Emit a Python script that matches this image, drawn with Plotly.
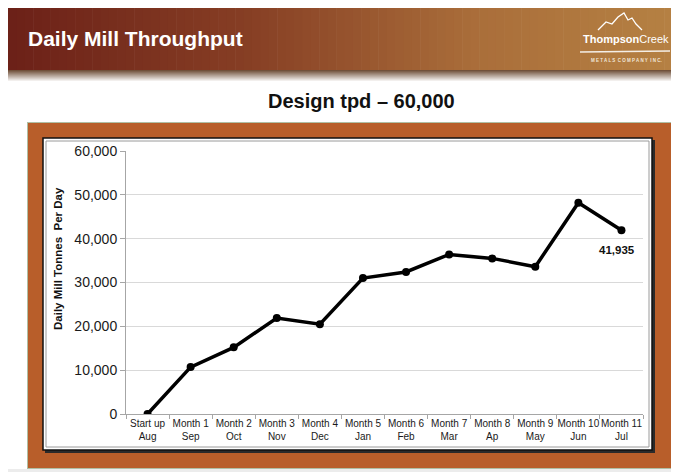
import plotly.graph_objects as go

# ---- data ----
months = ["Start up", "Month 1", "Month 2", "Month 3", "Month 4", "Month 5",
          "Month 6", "Month 7", "Month 8", "Month 9", "Month 10", "Month 11"]
cal = ["Aug", "Sep", "Oct", "Nov", "Dec", "Jan", "Feb", "Mar", "Ap", "May", "Jun", "Jul"]
tpd = [0, 10700, 15200, 21900, 20500, 31000, 32400, 36400, 35500, 33600, 48200, 41935]
y_ticks = [0, 10000, 20000, 30000, 40000, 50000, 60000]
categories = [f"{m}<br>{c}" for m, c in zip(months, cal)]

# page pixel frame (the html body adds an 8px offset)
OFF = 8
PAGE_W, PAGE_H = 679, 472
FIG_W, FIG_H = PAGE_W - OFF, PAGE_H - OFF
L, R, T, B = 126, 643, 151, 414
PW, PH = R - L, B - T


def px(x):
    return (x - L) / PW


def py(y):
    return (B - y) / PH


def lerp(c1, c2, t):
    return "rgb(%d,%d,%d)" % tuple(round(a + (b - a) * t) for a, b in zip(c1, c2))


shapes = []


def rect(x0, y0, x1, y1, fill, line=None, lw=0, layer="below"):
    shapes.append(dict(type="rect", xref="paper", yref="paper",
                       x0=px(x0), x1=px(x1), y0=py(y1), y1=py(y0),
                       fillcolor=fill, layer=layer,
                       line=dict(color=line or fill, width=lw)))


# page background
rect(0, 0, PAGE_W + 2, PAGE_H + 2, "#ECECEC")
rect(8, 7, PAGE_W + 2, 469, "#FFFFFF")

# banner gradient
stops = [(0.0, (108, 33, 24)), (0.35, (134, 62, 36)), (0.7, (170, 110, 58)), (1.0, (181, 129, 67))]
n = 80
x_start, x_end = 8, PAGE_W + 2
for i in range(n):
    t = i / (n - 1)
    for j in range(len(stops) - 1):
        if stops[j][0] <= t <= stops[j + 1][0]:
            tt = (t - stops[j][0]) / (stops[j + 1][0] - stops[j][0])
            col = lerp(stops[j][1], stops[j + 1][1], tt)
            break
    xa = x_start + (x_end - x_start) * i / n
    xb = x_start + (x_end - x_start) * (i + 1) / n + 0.6
    rect(xa, 7, xb, 70, col)
# banner lower shadow
for i in range(12):
    t = i / 11
    rect(8, 70 + i, PAGE_W + 2, 71 + i, lerp((112, 80, 58), (255, 255, 255), t))

# orange frame
rect(27, 122, 673, 469, "#B0BFA4")
rect(28, 123, 672, 468, "#B85E2A")
# inner box shadow + box
rect(45, 140, 655, 453, "#2A2A2A")
rect(43, 138, 652, 450, "#FFFFFF", line="#111111", lw=1.5)
rect(46, 141, 649, 447, "rgba(0,0,0,0)", line="#9A9A9A", lw=1)

# logo mountains
mx = [598, 606, 612, 618, 624, 628, 632, 636, 642]
my = [30, 22, 24, 17, 13, 20, 18, 24, 30]
path = "M " + " L ".join(f"{px(a)},{py(b)}" for a, b in zip(mx, my))
shapes.append(dict(type="path", xref="paper", yref="paper", path=path,
                   line=dict(color="#FFFFFF", width=1.3), layer="below"))
shapes.append(dict(type="line", xref="paper", yref="paper",
                   x0=px(580), x1=px(670), y0=py(52), y1=py(51),
                   line=dict(color="#F4EEE6", width=1.3), layer="below"))

annotations = [
    dict(text="<b>Daily Mill Throughput</b>", x=px(26), y=py(38), xref="paper", yref="paper",
         xanchor="left", yanchor="middle", showarrow=False,
         font=dict(family="Arial, Liberation Sans", size=21, color="#FFFFFF")),
    dict(text="<b>Thompson</b>Creek", x=px(626), y=py(39), xref="paper", yref="paper",
         xanchor="center", yanchor="middle", showarrow=False,
         font=dict(family="Arial, Liberation Sans", size=11, color="#FFFFFF")),
    dict(text="<b>M E T A L S  C O M P A N Y  I N C.</b>", x=px(626), y=py(61),
         xref="paper", yref="paper",
         xanchor="center", yanchor="middle", showarrow=False,
         font=dict(family="Arial, Liberation Sans", size=4.5, color="#F1E6D8")),
    dict(text="<b>Design tpd – 60,000</b>", x=px(361), y=py(101), xref="paper", yref="paper",
         xanchor="center", yanchor="middle", showarrow=False,
         font=dict(family="Arial, Liberation Sans", size=20, color="#111111")),
    dict(text="<b>Daily Mill Tonnes  Per Day</b>", x=px(58), y=py(259), xref="paper", yref="paper",
         xanchor="center", yanchor="middle", showarrow=False, textangle=-90,
         font=dict(family="Arial, Liberation Sans", size=11.5, color="#111111")),
    dict(text="<b>41,935</b>", x=categories[-1], y=tpd[-1], xref="x", yref="y",
         xanchor="center", yanchor="top", yshift=-12, xshift=-4, showarrow=False,
         font=dict(family="Arial, Liberation Sans", size=11.5, color="#111111")),
]

fig = go.Figure()
fig.add_trace(go.Scatter(
    x=categories, y=tpd, mode="lines+markers",
    line=dict(color="#000000", width=3.5),
    marker=dict(color="#000000", size=8),
    hoverinfo="x+y", showlegend=False,
))

fig.update_layout(
    width=FIG_W, height=FIG_H, autosize=False,
    margin=dict(l=L - OFF, r=PAGE_W - R, t=T - OFF, b=PAGE_H - B, pad=0),
    paper_bgcolor="#FFFFFF", plot_bgcolor="rgba(0,0,0,0)",
    shapes=shapes, annotations=annotations,
    font=dict(family="Arial, Liberation Sans", color="#222222"),
    xaxis=dict(type="category", range=[-0.5, 11.5], showgrid=False, zeroline=False,
               showline=True, linecolor="#A6A6A6", linewidth=1,
               ticks="outside", tickson="boundaries", ticklen=4, tickcolor="#A6A6A6",
               tickfont=dict(size=10, color="#1A1A1A"), tickangle=0, fixedrange=True),
    yaxis=dict(range=[0, 60000], tickvals=y_ticks, tickformat=",",
               showgrid=True, gridcolor="#D9D9D9", gridwidth=1, zeroline=False,
               showline=True, linecolor="#A6A6A6", linewidth=1,
               ticks="outside", ticklen=5, tickcolor="#A6A6A6",
               tickfont=dict(size=14, color="#1A1A1A"), fixedrange=True),
)

fig.write_html("out.html")
